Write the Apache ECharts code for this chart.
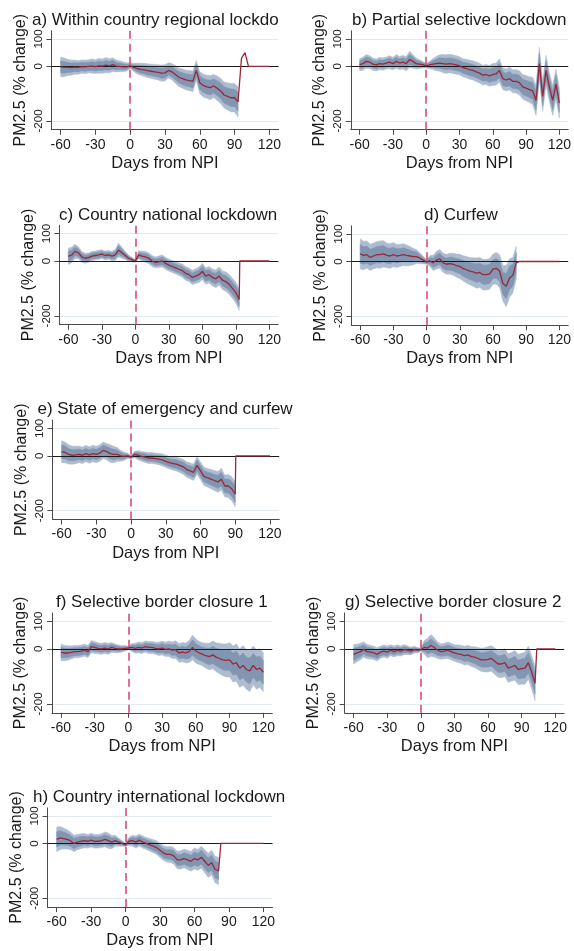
<!DOCTYPE html>
<html><head><meta charset="utf-8">
<script src="https://cdn.jsdelivr.net/npm/echarts@6/dist/echarts.min.js"></script>
<style>html,body{margin:0;padding:0;background:#fff}#c{width:574px;height:951px}</style>
</head><body><div id="c"></div>
<script>
// ---------- DATA ----------
const days = [-60,-57,-54,-51,-48,-45,-42,-39,-36,-33,-30,-27,-24,-21,-18,-15,-12,-9,-6,-3,0,3,6,9,12,15,18,21,24,27,30,33,36,39,42,45,48,51,54,57,60,63,66,69,72,75,78,81,84,87,90,93,96,99,102,105,108,111,114,117,120];
const xTicks = [-60,-30,0,30,60,90,120];
const yTicks = [-200,0,100];
const xTitle = 'Days from NPI';
const yTitle = 'PM2.5 (% change)';
const titles = ['a) Within country regional lockdown','b) Partial selective lockdown','c) Country national lockdown','d) Curfew','e) State of emergency and curfew','f) Selective border closure 1','g) Selective border closure 2','h) Country international lockdown'];
// day at which the estimate line returns to zero after the last estimated day
const returnDay = [null, null, 93.5, 81.5, 90.5, null, 103.5, 83];

// mean effect (% change)
const meanA = [-2,-4,-4,-5,-3,-4,-1,-2,0,1,-1,2,1,4,2,6,1,0,-2,-2, 2,-4,-8,-11,-13,-16,-18,-20,-22,-25, -24,-15,-20,-30,-40,-45,-50,-52,-55,-15, -60,-70,-75,-78,-72,-80,-90,-105,-110,-115, -115,-130,30,50,0,0,0,0,0,0,0];
const meanB = [6,10,18,15,8,5,10,8,12,15,10,18,12,15,10,25,18,10,8,6, 2,5,8,10,12,10,8,10,8,5, 2,-5,-8,-12,-15,-20,-25,-32,-30,-35, -30,-28,-15,-45,-50,-45,-55,-55,-60,-75, -80,-85,-90,-125,10,-110,-15,-75,-125,-65,-135];
const meanC = [17,22,35,30,15,10,12,18,20,22,25,20,22,18,22,40,30,20,10,5, 0,22,18,15,10,0,-5,-3,0,-8, -15,-20,-25,-30,-35,-45,-50,-60,-55,-50, -38,-55,-50,-60,-65,-55,-70,-75,-85,-100, -115,-140,0,0,0,0,0,0,0,0,0];
const meanD = [28,22,25,15,20,25,25,28,22,20,25,20,22,25,22,20,18,18,12,5, -2,2,-5,5,10,-5,-10,-8,-10,-15, -18,-25,-30,-35,-38,-42,-40,-48,-48,-45, -28,-25,-35,-80,-90,-60,-50,-5,0,0, 0,0,0,0,0,0,0,0,0,0,0];
const meanE = [15,12,5,2,3,5,2,8,3,8,5,10,20,15,8,5,5,0,-2,0, -5,5,2,-2,-5,-8,-8,-10,-12,-15, -20,-25,-28,-30,-35,-40,-50,-55,-60,-35, -55,-75,-80,-85,-90,-95,-85,-110,-110,-120, -140,0,0,0,0,0,0,0,0,0,0];
const meanF = [-13,-15,-15,-13,-10,-10,-8,-5,-10,8,5,2,0,3,0,5,2,0,0,2, 3,5,2,5,3,8,5,5,2,0, 3,-2,0,-5,-3,-15,-12,-15,-10,5, -8,-15,-20,-25,-28,-22,-30,-35,-40,-42, -40,-55,-50,-70,-60,-75,-80,-60,-75,-70,-85];
const meanG = [-20,-15,-10,-2,-10,-12,-15,-20,-12,-8,-12,-5,-10,-5,-8,-3,-5,-8,-3,-5, -3,5,3,12,5,-5,-10,-8,-5,-10, -15,-18,-20,-25,-22,-28,-30,-35,-40,-40, -38,-35,-45,-55,-55,-50,-70,-65,-60,-75, -72,-70,-50,-85,-125,0,0,0,0,0,0];
const meanH = [15,20,18,15,10,0,5,8,10,8,12,8,8,10,15,10,5,10,5,0, -5,8,10,5,12,5,0,-5,-10,-15, -25,-35,-40,-40,-45,-60,-60,-55,-60,-65, -55,-60,-50,-65,-80,-70,-95,-100,0,0, 0,0,0,0,0,0,0,0,0,0,0];

// half-width of outer (95%) confidence band
const outerA = [36,34,30,28,26,25,24,25,24,26,25,27,26,28,26,25,22,20,18,15, 10,15,20,22,24,25,26,27,28,30, 30,28,30,32,34,35,36,37,38,36, 40,42,42,44,42,45,46,48,50,52, 52,55];
const outerB = [22,24,25,24,22,22,23,22,22,24,23,25,24,25,26,30,25,20,16,12, 8,14,20,26,30,33,34,34,34,34, 33,33,34,35,35,36,36,36,37,38, 40,40,42,40,40,42,42,43,44,45, 46,47,50,55,60,55,55,52,55,55,55];
const outerC = [30,28,26,22,20,18,17,17,16,17,16,16,16,17,20,25,20,15,12,8, 5,15,18,20,20,20,20,21,22,22, 22,22,22,23,24,25,25,26,27,28, 30,30,30,31,32,33,34,35,36,37, 38,40];
const outerD = [55,52,50,48,47,48,50,48,45,45,44,42,40,40,38,35,30,25,20,14, 8,20,28,32,34,35,36,38,40,42, 44,46,48,50,52,55,55,56,56,56, 55,58,60,65,75,70,65,60];
const outerE = [40,38,35,33,32,30,30,30,30,30,30,30,30,30,32,30,25,20,15,10, 6,12,16,18,19,20,20,20,21,22, 22,23,24,25,26,27,28,29,30,32, 32,33,34,35,36,38,40,40,42,44, 46];
const outerF = [30,28,26,24,22,22,22,22,22,22,22,20,20,20,20,18,16,14,12,10, 6,14,18,20,20,20,22,22,22,24, 25,26,28,30,32,34,35,36,40,45, 44,42,42,45,48,50,52,55,58,60, 62,65,68,70,72,72,75,70,72,70,70];
const outerG = [35,32,30,28,26,25,24,24,22,22,22,20,20,20,18,18,16,14,12,10, 6,25,35,40,35,30,28,28,30,30, 30,32,33,34,35,36,38,40,42,44, 46,46,48,48,50,50,52,52,54,55, 56,58,60,60,62];
const outerH = [45,42,38,35,32,30,28,27,26,25,25,25,25,25,27,28,24,20,15,10, 6,15,20,22,22,22,22,23,24,25, 26,27,28,29,30,32,33,34,35,36, 38,38,40,42,44,45,48,50];

// half-width of inner (90%) confidence band
const innerA = [22,21,19,17,16,16,15,16,15,16,16,17,16,17,16,16,14,12,11,9, 6,9,12,14,15,16,16,17,17,19, 19,17,19,20,21,22,22,23,24,22, 25,26,26,27,26,28,29,30,31,32, 32,34];
const innerB = [14,15,16,15,14,14,14,14,14,15,14,16,15,16,16,19,16,12,10,7, 5,9,12,16,19,20,21,21,21,21, 20,20,21,22,22,22,22,22,23,24, 25,25,26,25,25,26,26,27,27,28, 29,29,31,34,37,34,34,32,34,34,34];
const innerC = [19,17,16,14,12,11,11,11,10,11,10,10,10,11,12,16,12,9,7,5, 3,9,11,12,12,12,12,13,14,14, 14,14,14,14,15,16,16,16,17,17, 19,19,19,19,20,20,21,22,22,23, 24,25];
const innerD = [34,32,31,30,29,30,31,30,28,28,27,26,25,25,24,22,19,16,12,9, 5,12,17,20,21,22,22,24,25,26, 27,29,30,31,32,34,34,35,35,35, 34,36,37,40,46,43,40,37];
const innerE = [25,24,22,20,20,19,19,19,19,19,19,19,19,19,20,19,16,12,9,6, 4,7,10,11,12,12,12,12,13,14, 14,14,15,16,16,17,17,18,19,20, 20,20,21,22,22,24,25,25,26,27, 29];
const innerF = [19,17,16,15,14,14,14,14,14,14,14,12,12,12,12,11,10,9,7,6, 4,9,11,12,12,12,14,14,14,15, 16,16,17,19,20,21,22,22,25,28, 27,26,26,28,30,31,32,34,36,37, 38,40,42,43,45,45,47,43,45,43,43];
const innerG = [22,20,19,17,16,16,15,15,14,14,14,12,12,12,11,11,10,9,7,6, 4,15,22,25,22,19,17,17,19,19, 19,20,20,21,22,22,24,25,26,27, 28,28,30,30,31,31,32,32,33,34, 35,36,37,37,38];
const innerH = [28,26,24,22,20,19,17,17,16,16,16,16,16,16,17,17,15,12,9,6, 4,9,12,14,14,14,14,14,15,16, 16,17,17,18,19,20,20,21,22,22, 24,24,25,26,27,28,30,31];

// ---------- LAYOUT / STYLE ----------
const means = [meanA,meanB,meanC,meanD,meanE,meanF,meanG,meanH];
const outers = [outerA,outerB,outerC,outerD,outerE,outerF,outerG,outerH];
const inners = [innerA,innerB,innerC,innerD,innerE,innerF,innerG,innerH];
const boxes = [
  {l:51.4, t:30.8, w:227.2, h:98.9, tx:32,  ty:20,  tw:260},
  {l:350.8,t:30.8, w:218.2, h:98.9, tx:352, ty:20,  tw:230},
  {l:59.4, t:225.3,w:218.9, h:99.4, tx:59,  ty:215.5,tw:240},
  {l:351.4,t:225.8,w:218.5, h:99.4, tx:424, ty:215.5,tw:200},
  {l:52.4, t:420.1,w:226.8, h:99.4, tx:37.5,ty:409, tw:258},
  {l:52,   t:613,  w:220.3, h:99.8, tx:56,  ty:602.5,tw:240},
  {l:344.7,t:613,  w:219.5, h:99.8, tx:345, ty:602.5,tw:240},
  {l:47.5, t:807.8,w:225,   h:99.3, tx:33,  ty:797, tw:260}
];
const FONT = '"Liberation Sans", Arial, sans-serif';
const TXT = '#1a1a1a';
const AX = '#4a4a4a';
const OUTER_C = '#adbccf';
const INNER_C = '#8396b1';
const LINE_C = '#98283a';
const DASH_C = '#d6406c';

function bandSeries(i, upper, lower, color, z, markLine) {
  const s = {
    type:'custom', xAxisIndex:i, yAxisIndex:i, silent:true, animation:false, z:z, clip:true,
    data:[[0]],
    renderItem:function(params, api){
      const pts = [];
      for (let k=0;k<upper.length;k++) pts.push(api.coord(upper[k]));
      for (let k=lower.length-1;k>=0;k--) pts.push(api.coord(lower[k]));
      return {type:'polygon', shape:{points:pts}, style:{fill:color, stroke:color, lineWidth:0.5}};
    }
  };
  if (markLine) s.markLine = markLine;
  return s;
}

const grids=[], xAxes=[], yAxes=[], series=[], graphics=[];
boxes.forEach((b,i)=>{
  grids.push({left:b.l, top:b.t, width:b.w, height:b.h, containLabel:false});
  xAxes.push({gridIndex:i, type:'value', min:-68, max:128,
    axisLine:{show:true, onZero:false, lineStyle:{color:AX, width:1}},
    axisTick:{show:true, customValues:xTicks, length:5, lineStyle:{color:AX}},
    axisLabel:{customValues:xTicks, fontSize:14, color:TXT, fontFamily:FONT, margin:8},
    splitLine:{show:false},
    name:xTitle, nameLocation:'middle', nameGap:25,
    nameTextStyle:{fontSize:16.5, color:TXT, fontFamily:FONT}});
  yAxes.push({gridIndex:i, type:'value', min:-232, max:130,
    axisLine:{show:true, onZero:false, lineStyle:{color:AX, width:1}},
    axisTick:{show:true, customValues:yTicks, length:5, lineStyle:{color:AX}},
    axisLabel:{customValues:yTicks, fontSize:11.5, color:TXT, fontFamily:FONT, rotate:90, margin:7},
    splitLine:{show:false},
    name:yTitle, nameLocation:'middle', nameGap:23,
    nameTextStyle:{fontSize:16, color:TXT, fontFamily:FONT}});

  const m = means[i], o = outers[i], n = inners[i];
  const bd = days.slice(0, o.length);
  const upO = bd.map((d,k)=>[d, m[k]+o[k]]);
  const loO = bd.map((d,k)=>[d, m[k]-o[k]]);
  const upI = bd.map((d,k)=>[d, m[k]+n[k]]);
  const loI = bd.map((d,k)=>[d, m[k]-n[k]]);
  const line = days.map((d,k)=>[d, m[k]]);
  if (returnDay[i] !== null) line.splice(o.length, 0, [returnDay[i], 0]);

  series.push(bandSeries(i, upO, loO, OUTER_C, 1,
    {silent:true, symbol:'none', z:0, label:{show:false}, animation:false,
     lineStyle:{color:'#e2eaee', width:1, type:'solid'}, data:[{yAxis:100},{yAxis:-200}]}));
  series.push(bandSeries(i, upI, loI, INNER_C, 2,
    {silent:true, symbol:'none', z:3, label:{show:false}, animation:false,
     data:[{yAxis:0, lineStyle:{color:'#1a1a1a', width:1.2, type:'solid'}},
           {xAxis:0, lineStyle:{color:DASH_C, width:1.5, type:[8,5]}}]}));
  series.push({type:'line', xAxisIndex:i, yAxisIndex:i, symbol:'none', silent:true, animation:false, z:4,
    data:line, lineStyle:{color:LINE_C, width:1.3}});

  graphics.push({type:'text', x:b.tx, y:b.ty, silent:true,
    style:{text:titles[i], font:'17px '+FONT, fill:TXT, verticalAlign:'middle', align:'left',
      width:b.tw, overflow:'truncate', ellipsis:''}});
});

const chart = echarts.init(document.getElementById('c'), null, {renderer:'canvas'});
chart.setOption({animation:false, backgroundColor:'#fff', grid:grids, xAxis:xAxes, yAxis:yAxes, series:series, graphic:graphics});
</script>
</body></html>
